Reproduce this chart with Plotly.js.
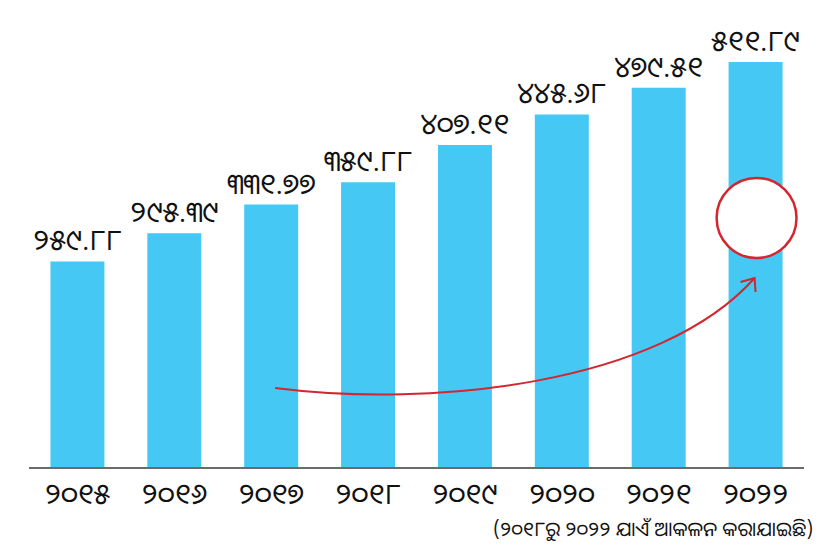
<!DOCTYPE html>
<html>
<head>
<meta charset="utf-8">
<script src="https://cdn.plot.ly/plotly-3.0.1.min.js"></script>
<style>html,body{margin:0;padding:0;background:#fff;}#chart{width:834px;height:554px;}</style>
</head>
<body>
<div id="chart"></div>
<script>
const years = ["୨୦୧୫","୨୦୧୬","୨୦୧୭","୨୦୧୮","୨୦୧୯","୨୦୨୦","୨୦୨୧","୨୦୨୨"];
const values = [259.88, 295.39, 331.77, 359.88, 407.11, 445.68, 479.51, 511.89];
const valueLabels = ["୨୫୯.୮୮","୨୯୫.୩୯","୩୩୧.୭୭","୩୫୯.୮୮","୪୦୭.୧୧","୪୪୫.୬୮","୪୭୯.୫୧","୫୧୧.୮୯"];
const note = "(୨୦୧୮ରୁ ୨୦୨୨ ଯାଏଁ ଆକଳନ କରାଯାଇଛି)";

const W = 834, H = 554;
const mL = 28.5, mR = W - 804.5, mT = 24, mB = H - 467;
const pw = W - mL - mR, ph = H - mT - mB;
const px = x => (x - mL) / pw;
const py = y => (H - mB - y) / ph;

const red = "#d3262e";
const curve = `M ${px(275)} ${py(388)} C ${px(430)} ${py(408)}, ${px(660)} ${py(385)}, ${px(755)} ${py(278)}`;
const head = `M ${px(741)} ${py(282)} L ${px(755)} ${py(278)} L ${px(756)} ${py(292)}`;

const font = "'Noto Sans Oriya','Noto Sans', 'DejaVu Sans', sans-serif";

Plotly.newPlot("chart", [{
  type: "bar",
  x: years,
  y: values,
  text: valueLabels,
  textposition: "outside",
  constraintext: "none",
  cliponaxis: false,
  textfont: {size: 29, color: "#111", family: font},
  marker: {color: "#45c8f3"},
  hoverinfo: "skip"
}], {
  width: W, height: H,
  margin: {l: mL, r: mR, t: mT, b: mB},
  paper_bgcolor: "#fff", plot_bgcolor: "#fff",
  bargap: 0.443,
  showlegend: false,
  xaxis: {
    showline: true, linecolor: "#6b6b6b", linewidth: 2,
    ticks: "", ticklen: 0, tickfont: {size: 29, color: "#111", family: font},
    showgrid: false, zeroline: false
  },
  yaxis: {range: [0, 560], visible: false, showgrid: false, zeroline: false},
  shapes: [
    {type: "path", xref: "paper", yref: "paper", path: curve, line: {color: red, width: 2}},
    {type: "path", xref: "paper", yref: "paper", path: head, line: {color: red, width: 2}},
    {type: "circle", xref: "paper", yref: "paper",
     x0: px(717), x1: px(797), y0: py(258), y1: py(178),
     fillcolor: "#fff", line: {color: red, width: 2.5}}
  ],
  annotations: [{
    xref: "paper", yref: "paper", x: px(816), y: py(528),
    xanchor: "right", yanchor: "middle", showarrow: false,
    text: note, font: {size: 20, color: "#111", family: font}
  }]
}, {displayModeBar: false, staticPlot: true});
</script>
</body>
</html>
